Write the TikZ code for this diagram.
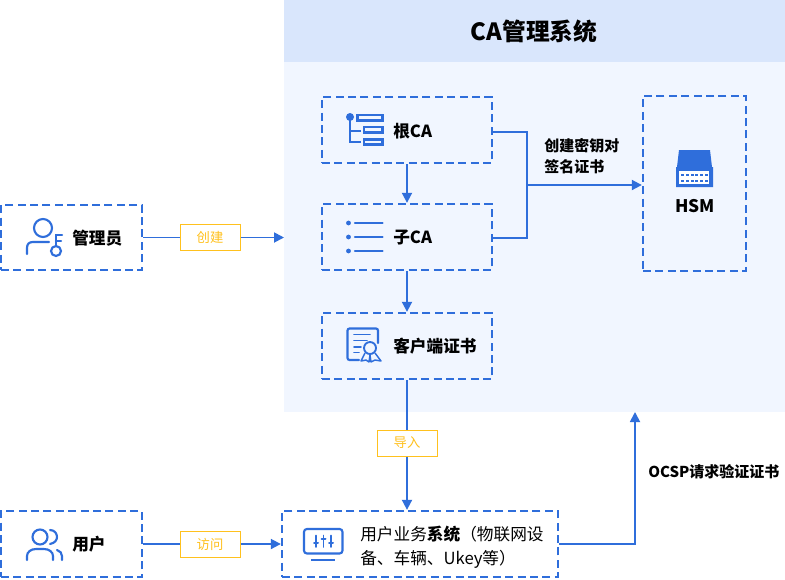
\documentclass[tikz,border=0pt]{standalone}
\usepackage{fontspec}
\setmainfont{Noto Sans CJK SC}
\usetikzlibrary{arrows.meta}
\definecolor{cblue}{HTML}{2F6EDB}
\definecolor{cyel}{HTML}{FFC11E}
\definecolor{chead}{HTML}{D9E6FC}
\definecolor{cpanel}{HTML}{F1F6FF}
\tikzset{
  dbox/.style={draw=cblue,line width=1.75pt,dash pattern=on 6pt off 3.3pt,inner sep=0pt},
  conn/.style={draw=cblue,line width=1.35pt},
  arr/.style={conn,-{Triangle[length=7.5pt,width=7.5pt]}},
  lbl/.style={draw=cyel,line width=0.75pt,fill=white,text=cyel,font=\fontsize{10}{12}\selectfont,minimum width=45pt,minimum height=19.5pt,inner sep=0pt},
  title/.style={font=\fontsize{12.5}{14}\selectfont\bfseries,inner sep=0pt,text=black},
  small/.style={font=\fontsize{11.25}{14}\selectfont\bfseries,inner sep=0pt,text=black},
  ico/.style={draw=cblue,line width=1.6pt,line cap=round},
  ico2/.style={draw=cblue,line width=1.7pt}
}
\begin{document}
\begin{tikzpicture}[x=0.75pt,y=-0.75pt]
\useasboundingbox (0,0) rectangle (785,579);
\fill[white] (0,0) rectangle (785,579);
% panel
\node[fill=cpanel,minimum width=375.75pt,minimum height=309pt,inner sep=0pt] (panel) at (534.5,206) {};
\node[fill=chead,minimum width=375.75pt,minimum height=46.5pt,inner sep=0pt] (head) at (534.5,31) {};
\node[font=\fontsize{17.8}{20}\selectfont\bfseries,inner sep=0pt] (ttl) at (534,31) {CA管理系统};
% boxes
\node[dbox,minimum width=127.5pt,minimum height=49.5pt] (root) at (407,130) {};
\node[dbox,minimum width=127.5pt,minimum height=49.5pt] (sub) at (407,237) {};
\node[dbox,minimum width=127.5pt,minimum height=49.5pt] (client) at (407,346) {};
\node[dbox,minimum width=77.25pt,minimum height=131.25pt] (hsm) at (694.5,183.5) {};
\node[dbox,minimum width=105.75pt,minimum height=48.75pt] (admin) at (71.5,237.5) {};
\node[dbox,minimum width=105.75pt,minimum height=49.5pt] (user) at (71.5,544) {};
\node[dbox,minimum width=207pt,minimum height=49.5pt] (biz) at (420,544) {};
% labels
\node[lbl] (create) at (210,237.5) {创建};
\node[lbl] (import) at (407,443) {导入};
\node[lbl] (visit) at (210,544) {访问};
% free ends
\coordinate (bus) at (527,185);
\coordinate (panelin) at (284,237.5);
\coordinate (ocsp) at (635,412);
% connectors
\draw[arr] (root) -- (sub);
\draw[arr] (sub) -- (client);
\draw[conn] ([yshift=-1.5pt]root.east) -| (bus);
\draw[conn] ([yshift=-0.7pt]sub.east) -| (bus);
\draw[arr] (bus) -- (hsm.west |- bus);
\draw[conn] (admin) -- (create);
\draw[arr] (create) -- (panelin);
\draw[conn] (client) -- (import);
\draw[arr] (import.south) -- (import.south |- biz.north);
\draw[conn] (user) -- (visit);
\draw[arr] (visit) -- (biz);
\draw[arr] (biz.east) -| (ocsp);
% texts
\node[title,anchor=west] (t1) at (393,131) {根CA};
\node[title,anchor=west] (t2) at (393,238) {子CA};
\node[title,anchor=west] (t3) at (393,346) {客户端证书};
\node[title,anchor=west] (t4) at (72,238) {管理员};
\node[title,anchor=west] (t5) at (72,544) {用户};
\node[title,font=\fontsize{13}{14}\selectfont\bfseries] (t6) at (695,206.5) {HSM};
\node[small,anchor=west] (t7) at (544,146) {创建密钥对};
\node[small,anchor=west] (t8) at (544,167) {签名证书};
\node[small,anchor=west] (t9) at (648,472) {OCSP请求验证证书};
\node[anchor=west,align=left,inner sep=0pt,font=\fontsize{12.5}{18}\selectfont] (t10) at (360,547.5) {用户业务\textbf{系统}（物联网设\\备、车辆、Ukey等）};
% root icon
\fill[cblue] (350,117) circle (4);
\draw[ico,line cap=butt,line width=2pt] (350,117) -- (350,142) -- (361,142) (350,131) -- (361,131);
\draw[ico2] (357.5,115) rectangle (382.5,120.5) (364,127) rectangle (382.5,132.5) (364,139.5) rectangle (382.5,144.5);
% sub icon
\fill[cblue] (348.5,223) circle (2.4) (348.5,237) circle (2.4) (348.5,251) circle (2.4);
\draw[ico,line width=1.7pt] (355,223) -- (382.5,223) (355,237) -- (382.5,237) (355,251) -- (382.5,251);
% certificate icon
\draw[ico,rounded corners=1.5pt] (378,343) -- (378,328.5) -- (347.5,328.5) -- (347.5,360) -- (359,360);
\draw[ico,line width=1.2pt] (354,334.5) -- (370,334.5) (354,340.5) -- (367,340.5) (354,347) -- (361,347) (354,352.5) -- (359,352.5);
\draw[ico,line width=1.4pt] (370,348) circle (6);
\draw[ico2,line width=1.1pt,line join=round] (365,353) -- (361,361) -- (366,360) -- (369,362) -- (370,355) -- (371,362) -- (375,360) -- (381,361) -- (375,353);
% admin icon
\draw[ico] (43,228) circle (9);
\draw[ico] (27,254) -- (27,248) .. controls (27,244) and (29,242) .. (33,242) -- (49,242);
\draw[ico] (56,251) circle (5);
\draw[ico] (56,246) -- (56,235) -- (62,235) (56,241) -- (61,241);
% user icon
\draw[ico] (40,537) circle (7.5);
\draw[ico] (27,560) -- (27,556) .. controls (27,552) and (31,549) .. (36,549) -- (44,549) .. controls (49,549) and (53,552) .. (53,556) -- (53,560);
\draw[ico] (50,530) .. controls (55,530) and (57,534) .. (57,537) .. controls (57,540) and (55,543) .. (50,544);
\draw[ico] (57,550) .. controls (60,551) and (62,553) .. (62,556) -- (62,560);
% business icon
\draw[ico,rounded corners=2.2pt] (304,529) rectangle (342.5,553.5);
\draw[ico,line cap=butt] (311,560) -- (335,560);
\draw[ico,line width=1.2pt] (316,535.5) -- (316,547) (323.5,535.5) -- (323.5,547) (331,535.5) -- (331,547);
\draw[ico,line width=1.5pt] (314,543) -- (318,543) (321.5,538.5) -- (325.5,538.5) (329,543) -- (333,543);
% HSM icon
\fill[cblue] (679,150) -- (710,150) -- (712,167) -- (713,167) -- (713,187) -- (676,187) -- (676,167) -- (677,167) -- cycle;
\fill[white] (679,171) rectangle (709,184);
\foreach \yy in {175,181}{
  \foreach \xx in {682,687,692,696,701,706}{
    \fill[cblue] (\xx-1.5,\yy-1) rectangle (\xx+1.5,\yy+1);
  }
}
\end{tikzpicture}
\end{document}
